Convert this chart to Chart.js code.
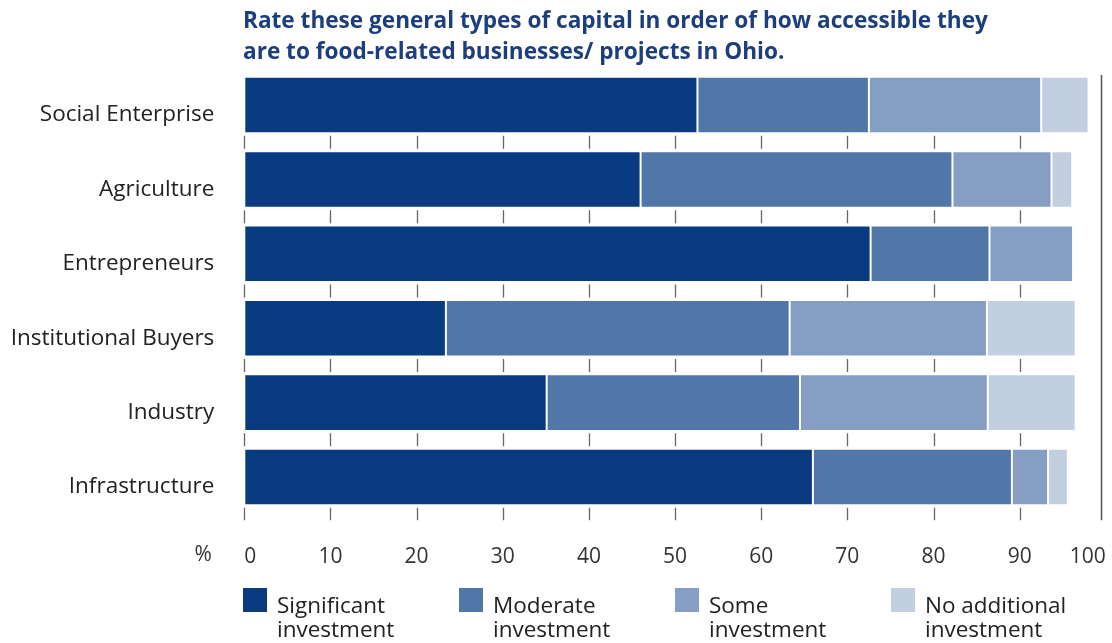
<!DOCTYPE html>
<html>
<head>
<meta charset="utf-8">
<script src="https://cdn.jsdelivr.net/npm/chart.js@4/dist/chart.umd.min.js"></script>
<style>
  html, body { margin: 0; padding: 0; background: #fff; }
  #wrap { position: relative; width: 1112px; height: 643px; overflow: hidden; font-family: "Open Sans", sans-serif; }
  #c { position: absolute; left: 0; top: 0; }
  #title { position: absolute; left: 243px; top: 4px; font-weight: 700; font-size: 22.6px; line-height: 31px; color: #1d3e7d; white-space: nowrap; }
  .leg { position: absolute; top: 588px; }
  .leg .sw { position: absolute; left: 0; top: 0; width: 24px; height: 24px; }
  .leg .tx { position: absolute; left: 34px; top: 5px; font-size: 22.5px; line-height: 24px; color: #222; white-space: nowrap; }
</style>
</head>
<body>
<div id="wrap">
  <canvas id="c" width="1112" height="643"></canvas>
  <div id="title">Rate these general types of capital in order of how accessible they<br>are to food-related businesses/ projects in Ohio.</div>
  <div id="legend"></div>
</div>
<script>
const categories = ["Social Enterprise", "Agriculture", "Entrepreneurs", "Institutional Buyers", "Industry", "Infrastructure"];
const seriesNames = [["Significant", "investment"], ["Moderate", "investment"], ["Some", "investment"], ["No additional", "investment"]];
const significant = [52.6, 46.0, 72.7, 23.4, 35.1, 66.0];
const moderate    = [19.9, 36.2, 13.8, 39.9, 29.4, 23.1];
const some        = [20.0, 11.5,  9.7, 22.9, 21.8,  4.2];
const noAdditional= [ 5.5,  2.4,  0.0, 10.3, 10.2,  2.3];
const xTicks = [0, 10, 20, 30, 40, 50, 60, 70, 80, 90, 100];
const colors = ["#0a3a80", "#5176a8", "#869ec3", "#c2cfe1"];

const seriesValues = [significant, moderate, some, noAdditional];

// legend (HTML)
const legendEl = document.getElementById('legend');
seriesNames.forEach((name, i) => {
  const d = document.createElement('div');
  d.className = 'leg';
  d.style.left = (243 + 216 * i) + 'px';
  d.innerHTML = '<div class="sw" style="background:' + colors[i] + '"></div><div class="tx">' + name.join('<br>') + '</div>';
  legendEl.appendChild(d);
});

const extras = {
  id: 'extras',
  beforeDatasetsDraw(chart) {
    // short tick marks between the rows, at every x tick (the 100 position is the frame line)
    const ctx = chart.ctx;
    const xs = chart.scales.x, ys = chart.scales.y;
    const step = ys.getPixelForValue(1) - ys.getPixelForValue(0);
    ctx.save();
    ctx.strokeStyle = '#666';
    ctx.lineWidth = 1.3;
    ctx.beginPath();
    xTicks.filter(v => v < xs.max).forEach(v => {
      const px = Math.round(xs.getPixelForValue(v)) + 0.5;
      for (let i = 0; i < categories.length; i++) {
        const cy = ys.getPixelForValue(i) + step / 2;
        ctx.moveTo(px, cy - 6.5);
        ctx.lineTo(px, cy + (i === categories.length - 1 ? 6 : 6.5));
      }
    });
    ctx.stroke();
    ctx.restore();
  },
  afterDraw(chart) {
    const ctx = chart.ctx;
    const xs = chart.scales.x;
    const area = chart.chartArea;
    ctx.save();
    // right-hand frame line
    const rx = Math.round(xs.getPixelForValue(99.5)) + 0.5;
    ctx.strokeStyle = '#555';
    ctx.lineWidth = 1.5;
    ctx.beginPath();
    ctx.moveTo(rx, area.top + 7);
    ctx.lineTo(rx, area.bottom + 6);
    ctx.stroke();
    // percent sign
    ctx.fillStyle = '#333';
    ctx.font = '21px "Open Sans"';
    ctx.textAlign = 'center';
    ctx.textBaseline = 'middle';
    ctx.fillText('%', area.left - 41, area.bottom + 41);
    ctx.restore();
  }
};

new Chart(document.getElementById('c'), {
  type: 'bar',
  data: {
    labels: categories,
    datasets: seriesValues.map((vals, i) => ({
      label: seriesNames[i].join(' '),
      data: vals,
      backgroundColor: colors[i],
      borderColor: '#ffffff',
      borderWidth: 1,
      borderSkipped: false,
      barPercentage: 0.76,
      categoryPercentage: 1.0
    }))
  },
  options: {
    indexAxis: 'y',
    responsive: false,
    animation: false,
    layout: { padding: { top: 67.9, left: 0, right: 6.2, bottom: 643 - 514.2 - 70 } },
    plugins: { legend: { display: false }, title: { display: false }, tooltip: { enabled: false } },
    scales: {
      x: {
        stacked: true,
        min: 0, max: 100,
        afterBuildTicks(scale) { scale.ticks = xTicks.map(v => ({ value: v })); },
        afterFit(scale) { scale.height = 70; },
        border: { display: false },
        grid: {
          display: false,
          drawTicks: true,
          tickLength: 30
        },
        ticks: {
          align: 'inner',
          padding: 0,
          color: '#333',
          font: { family: '"Open Sans"', size: 21 },
          maxRotation: 0
        }
      },
      y: {
        stacked: true,
        afterFit(scale) { scale.width = 244.3; },
        border: { display: false },
        grid: { display: false, drawTicks: false },
        ticks: {
          padding: 30,
          labelOffset: 10,
          color: '#222',
          font: { family: '"Open Sans"', size: 22.5 }
        }
      }
    }
  },
  plugins: [extras]
});
</script>
</body>
</html>
